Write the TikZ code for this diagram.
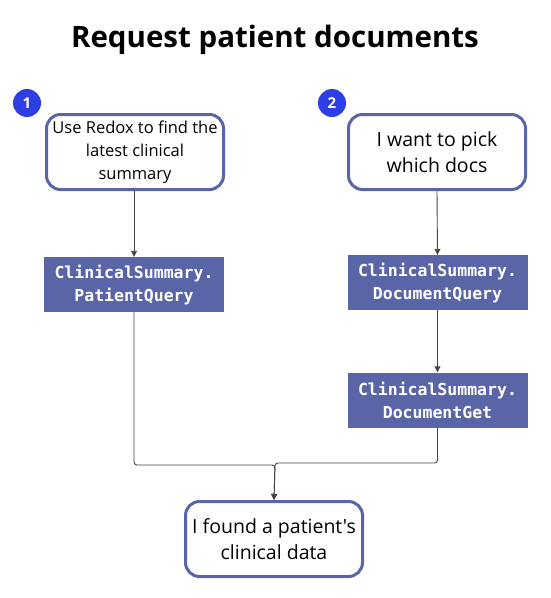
\documentclass[tikz,border=0pt]{standalone}
\usepackage{fontspec}
\setmainfont{Open Sans}
\setmonofont{DejaVu Sans Mono}
\newfontfamily\straightfont{Open Sans}
\usetikzlibrary{positioning,arrows.meta}
\definecolor{slate}{HTML}{5A65A8}
\definecolor{badgeblue}{HTML}{2C3EE4}
\definecolor{wire}{HTML}{454545}
\tikzstyle{askbox}=[rectangle,rounded corners=14pt,draw=slate,fill=white,line width=3pt,align=center,minimum width=177pt,minimum height=75pt,inner sep=2pt]
\tikzstyle{apibox}=[rectangle,fill=slate,text=white,align=center,minimum width=180pt,minimum height=55pt,inner sep=2pt,font=\ttfamily\bfseries\fontsize{16.5}{23}\selectfont]
\tikzstyle{numdot}=[circle,fill=badgeblue,text=white,minimum size=28pt,inner sep=0pt,font=\bfseries\fontsize{15}{18}\selectfont]
\tikzstyle{flow}=[-{Triangle[length=6pt,width=6pt]},draw=wire,line width=0.9pt,rounded corners=3pt]

\begin{document}
\begin{tikzpicture}[x=1pt,y=-1pt]
    \useasboundingbox (0,0) rectangle (550,598);
    \node [font=\bfseries\fontsize{29.5}{34}\selectfont] (title) at (275,40) {Request patient documents};

    % what the user wants
    \node [askbox,font=\fontsize{16.5}{23}\selectfont] (redox) at (135,152) {Use Redox to find the\\latest clinical\\summary};
    \node [askbox,font=\fontsize{19.5}{26}\selectfont] (pick) at (437,152) {I want to pick\\which docs};
    \node [numdot] (one) at (27,103) {1};
    \node [numdot] (two) at (332,103) {2};

    % api calls
    \node [apibox] (pq) at (134,284.5) {ClinicalSummary.\\PatientQuery};
    \node [apibox] (dq) at (437.5,282.5) {ClinicalSummary.\\DocumentQuery};
    \node [apibox] (dg) at (437.5,400) {ClinicalSummary.\\DocumentGet};

    \node [askbox,font=\straightfont\fontsize{19.5}{26}\selectfont] (found) at (274,539) {I found a patient's\\clinical data};

    \coordinate (joinL) at (275,465);
    \coordinate (joinR) at (275,463);

    \draw [flow] (redox.south -| pq.north) -- (pq.north);
    \draw [flow] (pick.south) -- (dq.north);
    \draw [flow] (dq.south) -- (dg.north);
    \draw [flow] (pq.south) |- (joinL) -- (found.north);
    \draw [flow] (dg.south) |- (joinR) -- (found.north);
\end{tikzpicture}
\end{document}
